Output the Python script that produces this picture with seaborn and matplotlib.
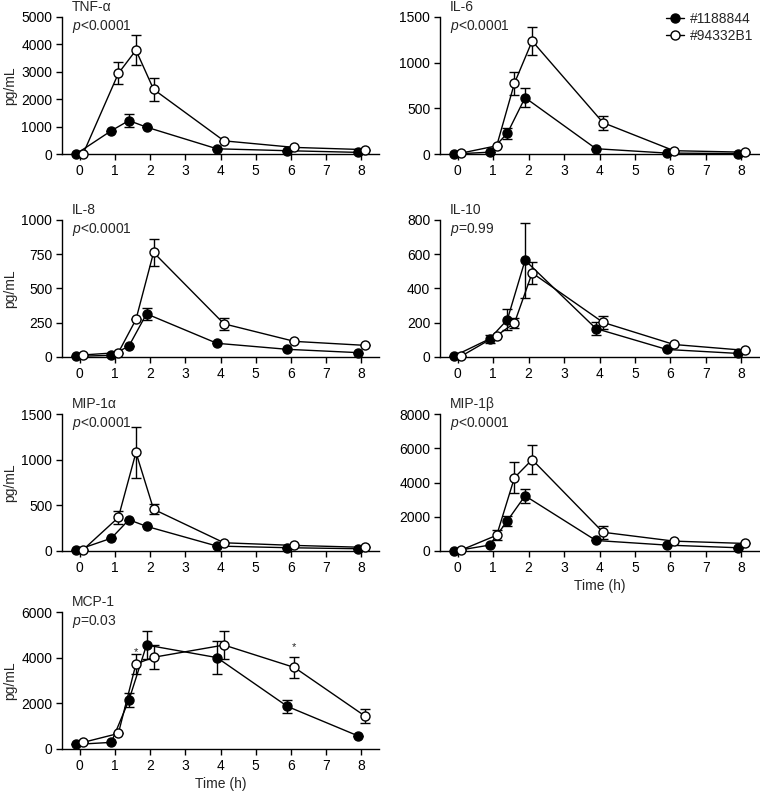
import matplotlib
matplotlib.use("Agg")
import matplotlib.pyplot as plt
import matplotlib.font_manager as fm
import seaborn as sns
import numpy as np
import pandas as pd
from matplotlib.lines import Line2D

# avoid matching the condensed "Narrow" variant
fm.fontManager.ttflist = [f for f in fm.fontManager.ttflist
                          if 'narrow' not in f.fname.lower() and 'narrow' not in f.name.lower()]
try:
    fm._findfont_cached.cache_clear()
except Exception:
    pass

sns.set_theme(style="ticks")
plt.rcParams['font.family'] = ['Liberation Sans', 'DejaVu Sans']
plt.rcParams['mathtext.fontset'] = 'custom'
plt.rcParams['mathtext.it'] = 'Liberation Sans:italic'
plt.rcParams['mathtext.rm'] = 'Liberation Sans'

times = [0, 1, 1.5, 2, 4, 6, 8]
groups = ["#1188844", "#94332B1"]

cytokines = ["TNF-α", "IL-6", "IL-8", "IL-10", "MIP-1α", "MIP-1β", "MCP-1"]
pvalues = ["p<0.0001", "p<0.0001", "p<0.0001", "p=0.99", "p<0.0001", "p<0.0001", "p=0.03"]
ymax = [5000, 1500, 1000, 800, 1500, 8000, 6000]
ystep = [1000, 500, 250, 200, 500, 2000, 2000]

# means (filled = #1188844, open = #94332B1)
tnf_a = [0, 850, 1220, 980, 190, 120, 60]
tnf_a_err = [0, 0, 230, 0, 0, 0, 0]
tnf_b = [10, 2940, 3790, 2360, 480, 240, 160]
tnf_b_err = [0, 400, 560, 420, 0, 0, 0]

il6_a = [0, 20, 227, 617, 58, 10, 5]
il6_a_err = [0, 0, 60, 105, 0, 0, 0]
il6_b = [10, 90, 775, 1237, 343, 36, 20]
il6_b_err = [0, 0, 125, 150, 75, 0, 0]

il8_a = [5, 12, 80, 315, 100, 56, 32]
il8_a_err = [0, 0, 0, 42, 0, 0, 0]
il8_b = [15, 32, 274, 763, 242, 114, 85]
il8_b_err = [0, 0, 0, 97, 45, 0, 0]

il10_a = [6, 106, 218, 565, 166, 44, 21]
il10_a_err = [0, 25, 60, 218, 40, 0, 0]
il10_b = [5, 125, 198, 491, 202, 73, 39]
il10_b_err = [0, 0, 27, 65, 36, 0, 0]

mip1a_a = [7, 140, 342, 270, 54, 36, 25]
mip1a_a_err = [0, 0, 0, 0, 0, 0, 0]
mip1a_b = [14, 367, 1079, 457, 90, 61, 40]
mip1a_b_err = [0, 75, 275, 55, 0, 0, 0]

mip1b_a = [0, 345, 1765, 3224, 614, 345, 190]
mip1b_a_err = [0, 0, 290, 400, 0, 0, 0]
mip1b_b = [58, 920, 4280, 5336, 1094, 576, 441]
mip1b_b_err = [0, 300, 910, 830, 380, 0, 0]

mcp1_a = [202, 290, 2140, 4553, 4003, 1864, 578]
mcp1_a_err = [0, 0, 310, 605, 740, 275, 0]
mcp1_b = [290, 680, 3728, 4017, 4553, 3570, 1445]
mcp1_b_err = [0, 0, 430, 525, 605, 470, 300]

series = [
    (tnf_a, tnf_a_err, tnf_b, tnf_b_err),
    (il6_a, il6_a_err, il6_b, il6_b_err),
    (il8_a, il8_a_err, il8_b, il8_b_err),
    (il10_a, il10_a_err, il10_b, il10_b_err),
    (mip1a_a, mip1a_a_err, mip1a_b, mip1a_b_err),
    (mip1b_a, mip1b_a_err, mip1b_b, mip1b_b_err),
    (mcp1_a, mcp1_a_err, mcp1_b, mcp1_b_err),
]

# significance asterisks on MCP-1 (time, y)
star_times = [1.5, 6]
star_y = [4250, 4450]

fig = plt.figure(figsize=(7.6, 7.92), dpi=100)
W, H = 760, 792
lefts = [62, 440]
widths = [317, 319]
tops = [17, 220, 414, 612]
hgt = 137

FS = 10
dodge = 0.1
axes = []
for i in range(7):
    r, c = divmod(i, 2)
    ax = fig.add_axes([lefts[c] / W, 1 - (tops[r] + hgt) / H, widths[c] / W, hgt / H])
    axes.append(ax)
    a, ae, b, be = series[i]
    xa = [t - dodge for t in times]
    xb = [t + dodge for t in times]
    df = pd.DataFrame({"x": xa + xb, "y": a + b, "err": ae + be,
                       "group": [groups[0]] * 7 + [groups[1]] * 7})
    for g, fc, z in [(groups[0], 'black', 3), (groups[1], 'white', 4)]:
        d = df[df.group == g]
        ax.errorbar(d.x, d.y, yerr=d.err, fmt='none', ecolor='black', elinewidth=1.0,
                    capsize=3.5, capthick=1.0, zorder=z - 1)
        sns.lineplot(data=d, x="x", y="y", ax=ax, color='black', marker='o',
                     markerfacecolor=fc, markeredgecolor='black', markersize=6.5,
                     markeredgewidth=1.0, linewidth=1.0, zorder=z, legend=False,
                     estimator=None, sort=False, clip_on=False)
    ax.set_xlim(-0.5, 8.5)
    ax.set_ylim(0, ymax[i])
    ax.set_xticks(range(0, 9))
    ax.set_yticks(np.arange(0, ymax[i] + 1, ystep[i]))
    sns.despine(ax=ax)
    for sp in ['left', 'bottom']:
        ax.spines[sp].set_linewidth(1.0)
        ax.spines[sp].set_color('black')
    ax.tick_params(axis='both', labelsize=FS, length=4, width=1.0, color='black', pad=3,
                   labelcolor='black')
    ax.set_xlabel("")
    ax.set_ylabel("pg/mL" if c == 0 else "", fontsize=FS)
    ax.text(0.03, 1.07, cytokines[i], transform=ax.transAxes, fontsize=FS, ha='left', va='center')
    pv = pvalues[i]
    ax.text(0.03, 0.93, "$p$" + pv[1:], transform=ax.transAxes, fontsize=FS, ha='left', va='center')
    ax.grid(False)

for k in (0, 2, 4, 6):
    axes[k].yaxis.set_label_coords(-0.14, 0.5)

axes[5].set_xlabel("Time (h)", fontsize=FS, labelpad=3)
axes[6].set_xlabel("Time (h)", fontsize=FS, labelpad=3)

for t, y in zip(star_times, star_y):
    axes[6].text(t + dodge, y, "*", fontsize=8, ha='center', va='center')

handles = [
    Line2D([], [], color='black', marker='o', markerfacecolor='black', markersize=6.5, linewidth=1.0),
    Line2D([], [], color='black', marker='o', markerfacecolor='white', markersize=6.5, linewidth=1.0),
]
axes[1].legend(handles, groups, loc='upper right', bbox_to_anchor=(1.02, 1.13), frameon=False,
               fontsize=FS, handlelength=1.3, handletextpad=0.4, labelspacing=0.25)

fig.savefig("out.png", dpi=100)
